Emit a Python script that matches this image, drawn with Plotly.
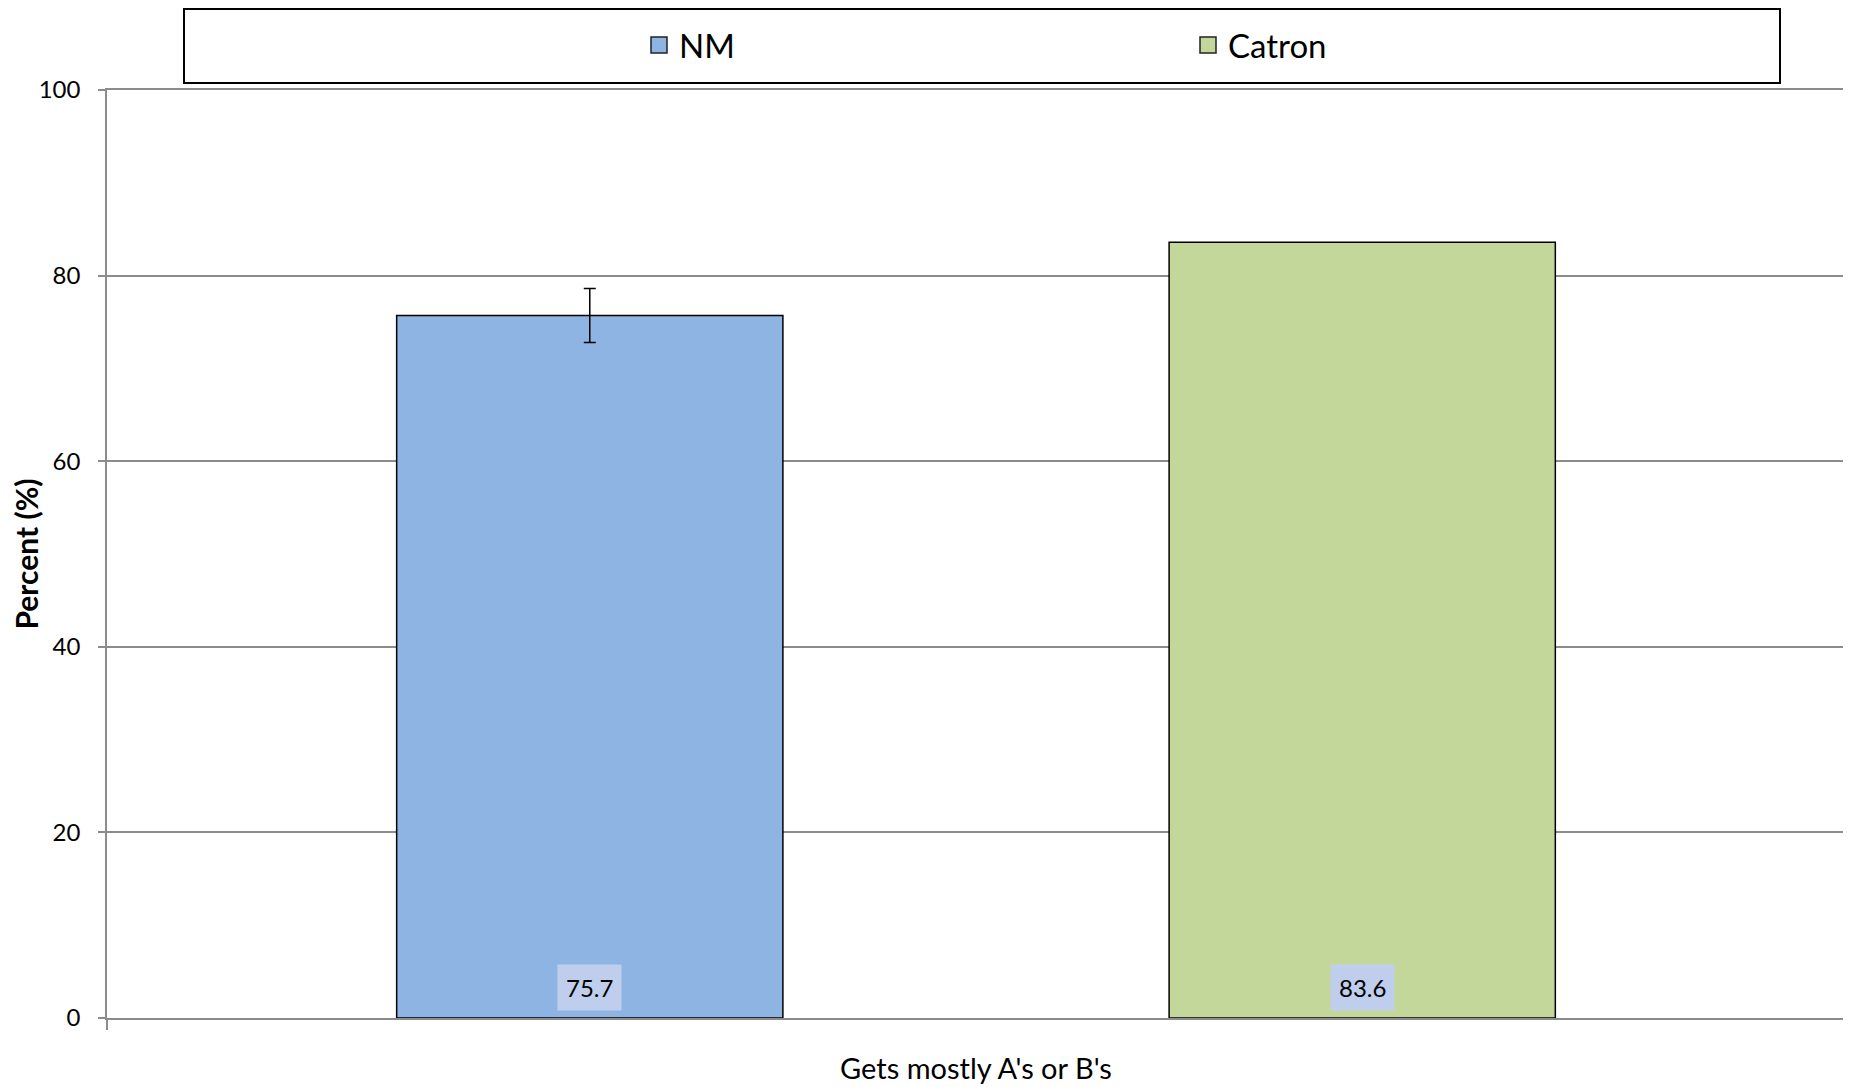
import plotly.graph_objects as go

# ---- data ----
category = ["Gets mostly A's or B's"]
series_names = ["NM", "Catron"]
values = [75.7, 83.6]
errors = [2.9, None]
colors = ["#8EB4E3", "#C4D79B"]
y_ticks = [0, 20, 40, 60, 80, 100]

FONT = "Lato"
GRID = "#8C8C8C"

fig = go.Figure()
positions = list(range(len(series_names)))
for i, (name, val, err, col) in enumerate(zip(series_names, values, errors, colors)):
    kw = {}
    if err is not None:
        kw["error_y"] = dict(type="data", array=[err], visible=True,
                             color="black", thickness=1.5, width=6)
    fig.add_trace(go.Bar(
        x=[positions[i]], y=[val], name=name, width=0.5, legendgroup=name,
        showlegend=False,
        marker=dict(color=col, line=dict(color="black", width=1.5)),
        hoverinfo="skip", **kw))
    # legend key (larger square swatch, like the original)
    fig.add_trace(go.Scatter(
        x=[None], y=[None], name=name, legendgroup=name, mode="markers",
        marker=dict(symbol="square", size=16, color=col,
                    line=dict(color="#222222", width=1.5)),
        hoverinfo="skip"))
    fig.add_annotation(
        x=positions[i], xref="x", y=0, yref="paper", yanchor="bottom", yshift=7,
        text=f"{val:.1f}", showarrow=False,
        font=dict(family=FONT, size=24, color="black"),
        bgcolor="#BFCEEC", borderpad=8)

center = sum(positions) / len(positions)
lo = positions[0] - 0.625
hi = positions[-1] + 0.625

fig.update_layout(
    width=1843, height=1079,
    margin=dict(l=99, r=6, t=82, b=69, autoexpand=False),
    paper_bgcolor="white", plot_bgcolor="white",
    font=dict(family=FONT, size=24, color="black"),
    showlegend=True,
    legend=dict(orientation="h", x=0.3061, xanchor="left", y=1.0485, yanchor="middle",
                font=dict(family=FONT, size=33, color="black"),
                entrywidth=504, entrywidthmode="pixels",
                bgcolor="rgba(0,0,0,0)", borderwidth=0),
    xaxis=dict(range=[lo, hi], tickvals=[center], ticktext=category,
               ticks="", showgrid=False, zeroline=False, automargin=False,
               showline=True, linecolor=GRID, linewidth=1.5, mirror=True,
               tickfont=dict(family=FONT, size=29, color="black"),
               ticklabelstandoff=24,
               minor=dict(tickvals=[lo, hi], ticks="outside", ticklen=10,
                          tickcolor=GRID, tickwidth=1.5, showgrid=False)),
    yaxis=dict(range=[0, 100], tickvals=y_ticks, ticks="outside", ticklen=7,
               tickcolor=GRID, tickwidth=1.5, automargin=False,
               showgrid=True, gridcolor=GRID, gridwidth=1.5, zeroline=False,
               showline=True, linecolor=GRID, linewidth=1.5, mirror=True,
               tickfont=dict(family=FONT, size=24, color="black"),
               ticklabelstandoff=13,
               title=dict(text="<b>Percent (%)</b>", standoff=0,
                          font=dict(family=FONT, size=30, color="black"))),
    shapes=[dict(type="rect", xref="paper", yref="paper",
                 x0=0.0443, x1=0.9626, y0=1.0075, y1=1.0873,
                 line=dict(color="black", width=2), fillcolor="rgba(0,0,0,0)")],
)

fig.write_html("out.html")
